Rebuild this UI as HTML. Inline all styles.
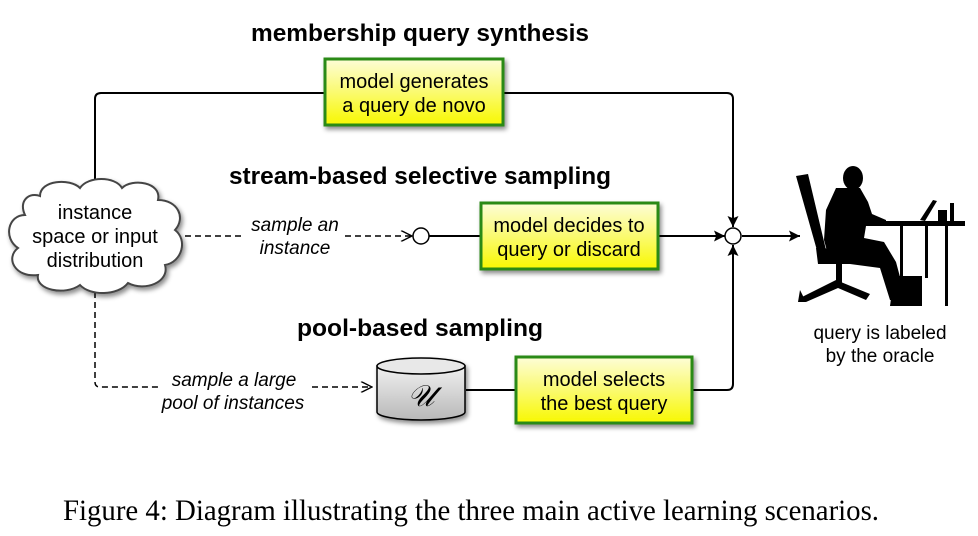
<!DOCTYPE html>
<html><head><meta charset="utf-8"><style>
html,body{margin:0;padding:0;background:#fff;}
svg{display:block;}
.t{font-family:"Liberation Sans",sans-serif;}
</style></head><body>
<svg width="978" height="536" viewBox="0 0 978 536" xmlns="http://www.w3.org/2000/svg">
<defs>
<linearGradient id="yg" x1="0" y1="0" x2="0" y2="1">
<stop offset="0" stop-color="#fdfdd8"/><stop offset="0.5" stop-color="#fafa70"/><stop offset="1" stop-color="#f8f800"/>
</linearGradient>
<linearGradient id="cg" x1="0" y1="0" x2="0" y2="1">
<stop offset="0" stop-color="#f0f0f0"/><stop offset="1" stop-color="#b8b8b8"/>
</linearGradient>
<filter id="sh" x="-20%" y="-20%" width="150%" height="150%"><feDropShadow dx="2" dy="3" stdDeviation="2.5" flood-color="#000" flood-opacity="0.45"/></filter>
<marker id="ar" viewBox="0 0 10 10" refX="10" refY="5" markerWidth="14" markerHeight="11" orient="auto" markerUnits="userSpaceOnUse"><path d="M0,0 L10,5 L0,10 L2,5 z" fill="#000"/></marker>
<marker id="oa" viewBox="0 0 10 10" refX="10" refY="5" markerWidth="13" markerHeight="11" orient="auto" markerUnits="userSpaceOnUse"><path d="M0,0 L10,5 L0,10" fill="none" stroke="#000" stroke-width="1.3"/></marker>
</defs>

<g class="t" font-weight="bold" font-size="24" text-anchor="middle" fill="#000">
<text x="420" y="41" textLength="338" lengthAdjust="spacingAndGlyphs">membership query synthesis</text>
<text x="420" y="184" textLength="382" lengthAdjust="spacingAndGlyphs">stream-based selective sampling</text>
<text x="420" y="336" textLength="246" lengthAdjust="spacingAndGlyphs">pool-based sampling</text>
</g>

<g stroke="#000" stroke-width="2" fill="none">
<path d="M95,195 L95,99 Q95,93 101,93 L325,93"/>
<path d="M503,93 L727,93 Q733,93 733,99 L733,227" marker-end="url(#ar)"/>
<path d="M429,236 L481,236"/>
<path d="M658,236 L725,236" marker-end="url(#ar)"/>
<path d="M742,236 L800,236" marker-end="url(#ar)"/>
<path d="M466,390 L516,390"/>
<path d="M692,390 L727,390 Q733,390 733,384 L733,245" marker-end="url(#ar)"/>
</g>
<g stroke="#000" stroke-width="1.5" fill="none" stroke-dasharray="6,4">
<path d="M185,236 L245,236"/><path d="M345,236 L412,236" marker-end="url(#oa)"/>
<path d="M95,292 L95,382 Q95,387 100,387 L158,387"/><path d="M312,387 L372,387" marker-end="url(#oa)"/>
</g>
<circle cx="421" cy="236" r="8" fill="#fff" stroke="#000" stroke-width="1.5"/>
<circle cx="733" cy="236" r="8" fill="#fff" stroke="#000" stroke-width="1.5"/>

<path filter="url(#sh)" fill="#fff" stroke="#444" stroke-width="2" d="M40,196 C40,180 70,178 80,188 C88,176 115,176 122,188 C132,178 162,182 158,200 C178,200 186,218 175,230 C188,240 182,262 165,265 C170,282 145,292 128,283 C118,296 90,296 80,285 C65,296 35,290 38,275 C15,278 5,258 18,248 C3,238 8,215 25,215 C18,200 30,192 40,196 z"/>
<g class="t" font-size="20" text-anchor="middle">
<text x="95" y="219">instance</text>
<text x="95" y="243">space or input</text>
<text x="95" y="267">distribution</text>
</g>

<g class="t" font-size="19" font-style="italic" text-anchor="middle">
<text x="295" y="231">sample an</text>
<text x="295" y="254">instance</text>
<text x="234" y="386">sample a large</text>
<text x="233" y="409">pool of instances</text>
</g>

<g filter="url(#sh)" fill="url(#yg)" stroke="#2a8a12" stroke-width="3">
<rect x="325" y="59" width="178" height="66"/>
<rect x="481" y="203" width="177" height="66"/>
<rect x="516" y="357" width="176" height="66"/>
</g>
<g class="t" font-size="20" text-anchor="middle">
<text x="414" y="88">model generates</text><text x="414" y="112">a query de novo</text>
<text x="569" y="232">model decides to</text><text x="569" y="256">query or discard</text>
<text x="604" y="386">model selects</text><text x="604" y="410">the best query</text>
</g>

<g filter="url(#sh)">
<path d="M377,366 L377,412 A44,8 0 0 0 465,412 L465,366 z" fill="url(#cg)" stroke="#000" stroke-width="1.5"/>
<ellipse cx="421" cy="366" rx="44" ry="8" fill="#e8e8e8" stroke="#000" stroke-width="1.5"/>
</g>
<text x="421" y="406" font-family="Liberation Serif,serif" font-style="italic" font-size="30" text-anchor="middle">𝒰</text>

<g fill="#000">
<ellipse cx="853" cy="178" rx="10" ry="12"/>
<path d="M836,188 L860,188 L868,202 L872,214 L886,220 L886,226 L866,226 L864,238 L884,242 L896,262 L904,292 L914,296 L912,302 L890,300 L880,268 L850,264 L830,262 L824,240 L826,210 Z"/>
<path d="M796,176 L808,174 L826,250 L818,254 Z"/>
<path d="M816,248 L866,250 L868,264 L818,264 Z"/>
<rect x="836" y="262" width="6" height="22"/>
<path d="M800,298 L836,280 L870,294 L866,300 L838,288 L806,302 Z"/>
<path d="M800,290 L806,302 L798,302 Z"/>
<path d="M894,276 L922,276 L922,306 L890,306 Z"/>
<rect x="872" y="221" width="93" height="5"/>
<rect x="900" y="226" width="3" height="50"/>
<rect x="925" y="226" width="3" height="52"/>
<rect x="945" y="226" width="3" height="80"/>
<path d="M920,220 L933,200 L937,201 L925,221 Z"/>
<rect x="938" y="210" width="9" height="12"/>
<rect x="950" y="203" width="4" height="19"/>
</g>
<g class="t" font-size="19" text-anchor="middle">
<text x="880" y="339">query is labeled</text>
<text x="880" y="362">by the oracle</text>
</g>

<text x="471" y="520" font-family="Liberation Serif,serif" font-size="30" text-anchor="middle" textLength="816" lengthAdjust="spacingAndGlyphs">Figure 4: Diagram illustrating the three main active learning scenarios.</text>
</svg>
</body></html>
